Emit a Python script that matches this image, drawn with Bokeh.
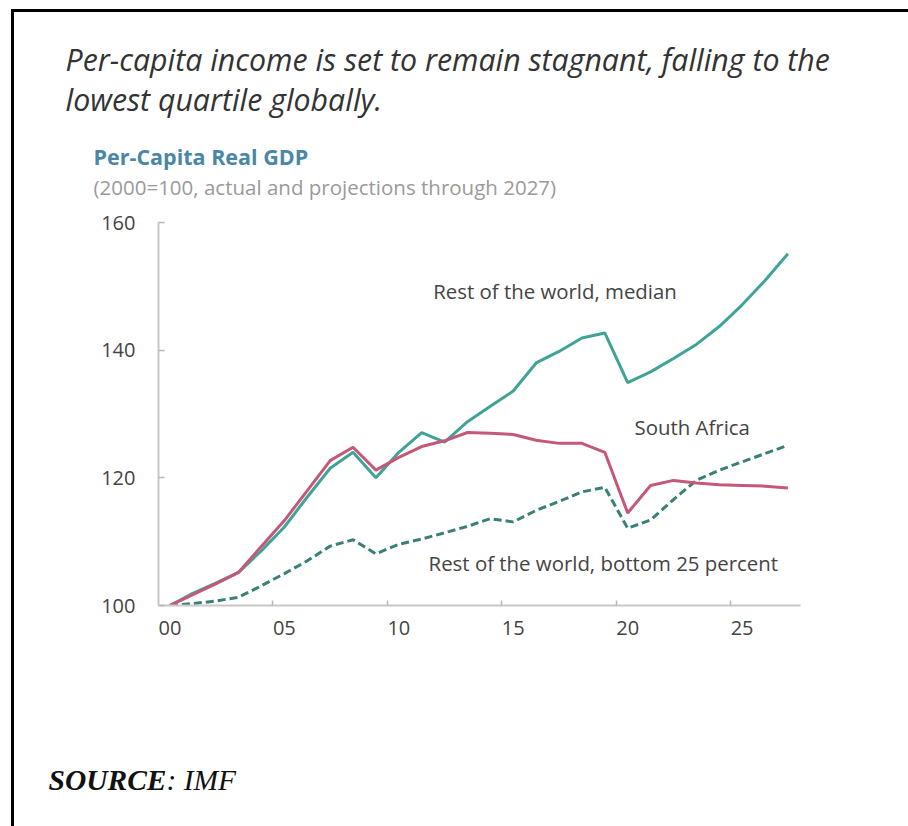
from bokeh.plotting import figure
from bokeh.layouts import column
from bokeh.models import Range1d, FixedTicker, Label, ColumnDataSource
from bokeh.embed import file_html
from bokeh.resources import INLINE

# ---- data ----
years = list(range(2000, 2028))
median_rest = [100.0, 101.9, 103.5, 105.2, 108.6, 112.3, 117.0, 121.5, 124.0, 120.0,
               124.0, 127.1, 125.6, 128.8, 131.2, 133.6, 138.0, 139.8, 141.9, 142.7,
               134.9, 136.6, 138.7, 140.9, 143.7, 147.1, 150.9, 155.1]
south_africa = [100.0, 101.7, 103.4, 105.2, 109.3, 113.3, 118.0, 122.7, 124.8, 121.2,
                123.2, 124.9, 125.8, 127.1, 127.0, 126.8, 125.9, 125.4, 125.4, 124.0,
                114.5, 118.8, 119.6, 119.2, 118.9, 118.8, 118.7, 118.4]
bottom25_rest = [100.0, 100.3, 100.7, 101.3, 103.1, 105.0, 107.0, 109.3, 110.3, 108.1,
                 109.6, 110.4, 111.4, 112.4, 113.6, 113.1, 114.9, 116.3, 117.8, 118.5,
                 112.1, 113.4, 116.6, 119.6, 121.2, 122.5, 123.8, 125.1]
x_tick_years = [2000, 2005, 2010, 2015, 2020, 2025]
x_tick_labels = ["00", "05", "10", "15", "20", "25"]
y_ticks = [100, 120, 140, 160]

TEAL = "#40a398"
TEAL_DARK = "#3a8078"
RED = "#c65877"
FONT = "Open Sans"

# page geometry: content box starts after 11px margin + 3px border (x), 9px + 3px (y)
X0, Y0 = 14, 12
W = 908 - X0
HEAD_BOTTOM = 200
CHART_BOTTOM = 660


def no_frame_align(f):
    if "frame_align" in f.properties():
        f.frame_align = False


def text_panel(top, bottom):
    f = figure(width=W, height=bottom - top, output_backend="svg", toolbar_location=None,
               x_axis_type=None, y_axis_type=None, min_border=0,
               x_range=Range1d(X0, 908), y_range=Range1d(bottom, top))
    f.outline_line_color = None
    f.background_fill_color = "white"
    f.border_fill_color = "white"
    no_frame_align(f)
    return f


# ---- header ----
head = text_panel(Y0, HEAD_BOTTOM)
title_kw = dict(text_font=FONT, text_font_style="italic", text_font_size="30.3px",
                text_color="#333333", text_baseline="middle")
head.add_layout(Label(x=65, y=59, text="Per-capita income is set to remain stagnant, falling to the", **title_kw))
head.add_layout(Label(x=65, y=99, text="lowest quartile globally.", **title_kw))
head.add_layout(Label(x=93, y=156, text="Per-Capita Real GDP", text_font=FONT, text_font_style="bold",
                      text_font_size="21.5px", text_color="#4a87a6", text_baseline="middle"))
head.add_layout(Label(x=93, y=186, text="(2000=100, actual and projections through 2027)",
                      text_font=FONT, text_font_size="20.5px", text_color="#9a9a9a",
                      text_baseline="middle"))

# ---- chart ----
src = ColumnDataSource(dict(year=years, med=median_rest, sa=south_africa, b25=bottom25_rest))
p = figure(width=W, height=CHART_BOTTOM - HEAD_BOTTOM, output_backend="svg", toolbar_location=None,
           x_range=Range1d(1999.5, 2027.55), y_range=Range1d(100, 160),
           min_border_left=158 - X0, min_border_right=108, min_border_top=222 - HEAD_BOTTOM,
           min_border_bottom=CHART_BOTTOM - 605)
p.outline_line_color = None
p.xgrid.visible = False
p.ygrid.visible = False
p.background_fill_color = "white"
p.border_fill_color = "white"
no_frame_align(p)

p.line("year", "med", source=src, line_color=TEAL, line_width=3)
p.line("year", "b25", source=src, line_color=TEAL_DARK, line_width=3, line_dash="8 4")
p.line("year", "sa", source=src, line_color=RED, line_width=3)

xa = p.xaxis[0]
xa.ticker = FixedTicker(ticks=x_tick_years, minor_ticks=[y - 0.5 for y in x_tick_years[1:]])
xa.major_label_overrides = {y: l for y, l in zip(x_tick_years, x_tick_labels)}
xa.major_tick_line_color = None
xa.major_tick_out = 0
xa.major_tick_in = 0
xa.minor_tick_in = 5
xa.minor_tick_out = 0
xa.minor_tick_line_color = "#b8b8b8"
xa.minor_tick_line_width = 1.5
xa.axis_line_color = "#c8c8c8"
xa.axis_line_width = 2
xa.major_label_standoff = 15
xa.major_label_text_font = FONT
xa.major_label_text_font_size = "20px"
xa.major_label_text_color = "#444444"

ya = p.yaxis[0]
ya.ticker = FixedTicker(ticks=y_ticks, minor_ticks=[])
ya.major_tick_in = 6
ya.major_tick_out = 0
ya.major_tick_line_color = "#b8b8b8"
ya.major_tick_line_width = 1.5
ya.axis_line_color = "#c8c8c8"
ya.axis_line_width = 2
ya.major_label_standoff = 23
ya.major_label_text_font = FONT
ya.major_label_text_font_size = "20px"
ya.major_label_text_color = "#444444"

for txt, x, y in [("Rest of the world, median", 2011.5, 149.2),
                  ("South Africa", 2020.3, 128.0),
                  ("Rest of the world, bottom 25 percent", 2011.3, 106.7)]:
    p.add_layout(Label(x=x, y=y, text=txt, text_font=FONT, text_font_size="20.4px",
                       text_color="#444444", text_baseline="middle"))

# ---- footer ----
foot = text_panel(CHART_BOTTOM, 826)
foot.add_layout(Label(x=48, y=779, text="SOURCE", text_font="Liberation Serif",
                      text_font_style="bold italic", text_font_size="29.5px",
                      text_color="#111111", text_baseline="middle"))
foot.add_layout(Label(x=166, y=779, text=": IMF", text_font="Liberation Serif",
                      text_font_style="italic", text_font_size="29.5px",
                      text_color="#111111", text_baseline="middle"))

page = column(head, p, foot, spacing=0, margin=(9, 0, 0, 11),
              styles={"border-left": "3px solid #000000", "border-top": "3px solid #000000"})

open("out.html", "w").write(file_html(page, INLINE))
